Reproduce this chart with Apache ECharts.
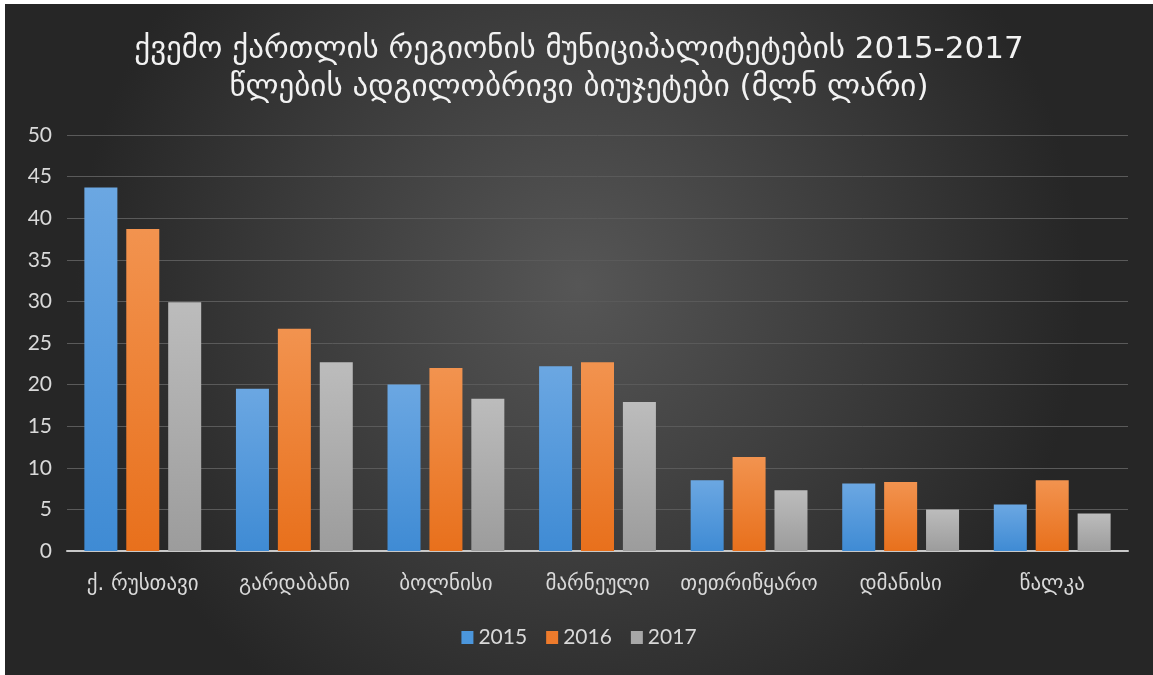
<!DOCTYPE html>
<html>
<head>
<meta charset="utf-8">
<title>ქვემო ქართლის მუნიციპალიტეტების ბიუჯეტები</title>
<script src="https://cdn.jsdelivr.net/npm/echarts@6/dist/echarts.min.js"></script>
<style>
  html, body { margin: 0; padding: 0; background: #ffffff; }
  #chart { position: absolute; left: 5px; top: 4px; width: 1148px; height: 671px; }
</style>
</head>
<body>
<div id="chart"></div>
<script>
// Municipalities of Kvemo Kartli
const categories = ['ქ. რუსთავი', 'გარდაბანი', 'ბოლნისი', 'მარნეული', 'თეთრიწყარო', 'დმანისი', 'წალკა'];

// Local budgets, million GEL
const budget2015 = [43.7, 19.5, 20.0, 22.2, 8.5, 8.1, 5.6];
const budget2016 = [38.7, 26.7, 22.0, 22.7, 11.3, 8.3, 8.5];
const budget2017 = [29.9, 22.7, 18.3, 17.9, 7.3, 5.0, 4.5];

const yearNames = ['2015', '2016', '2017'];

const chart = echarts.init(document.getElementById('chart'));

function vGrad(top, bottom) {
  return new echarts.graphic.LinearGradient(0, 0, 0, 1, [
    { offset: 0, color: top },
    { offset: 1, color: bottom }
  ]);
}

const palette = [
  vGrad('#6ba7e2', '#3f8bd4'),
  vGrad('#f2934f', '#e8701c'),
  vGrad('#bcbcbc', '#9c9c9c')
];
const legendColors = ['#4b96dc', '#ee7b2c', '#a8a8a8'];

const seriesData = [budget2015, budget2016, budget2017];

const fontLatin = 'Lato, "Open Sans", "DejaVu Sans", sans-serif';
const fontGeo = '"DejaVu Sans", sans-serif';

chart.setOption({
  backgroundColor: new echarts.graphic.RadialGradient(0.5, 0.42, 0.75, [
    { offset: 0, color: '#565656' },
    { offset: 0.55, color: '#3c3c3c' },
    { offset: 1, color: '#262626' }
  ]),
  title: {
    text: 'ქვემო ქართლის რეგიონის მუნიციპალიტეტების 2015-2017\nწლების ადგილობრივი ბიუჯეტები (მლნ ლარი)',
    left: 'center',
    top: 22,
    textStyle: {
      color: '#f2f2f2',
      fontFamily: fontGeo,
      fontSize: 31,
      fontWeight: 'normal',
      lineHeight: 38
    }
  },
  legend: {
    bottom: 22,
    left: 'center',
    itemWidth: 12,
    itemHeight: 13,
    itemGap: 19,
    icon: 'rect',
    textStyle: { color: '#d9d9d9', fontSize: 21, fontFamily: fontLatin, padding: [0, 0, 0, 0] },
    data: yearNames.map((n, i) => ({ name: n, itemStyle: { color: legendColors[i] } }))
  },
  grid: { left: 62, right: 25, top: 131, bottom: 124, containLabel: false },
  xAxis: {
    type: 'category',
    data: categories,
    axisLine: { lineStyle: { color: '#c8c8c8', width: 2 } },
    axisTick: { show: false },
    axisLabel: { color: '#d9d9d9', fontSize: 21, fontFamily: fontGeo, margin: 23, interval: 0 }
  },
  yAxis: {
    type: 'value',
    min: 0,
    max: 50,
    interval: 5,
    axisLine: { show: false },
    axisTick: { show: false },
    splitLine: { lineStyle: { color: '#5a5a5a', width: 1 } },
    axisLabel: { color: '#d9d9d9', fontSize: 21, fontFamily: fontLatin, margin: 15 }
  },
  series: yearNames.map((name, i) => ({
    name: name,
    type: 'bar',
    data: seriesData[i],
    barWidth: 33,
    barGap: '27%',
    itemStyle: {
      color: palette[i],
      shadowColor: 'rgba(0,0,0,0.55)',
      shadowBlur: 6
    },
    emphasis: { disabled: true }
  }))
});
</script>
</body>
</html>
